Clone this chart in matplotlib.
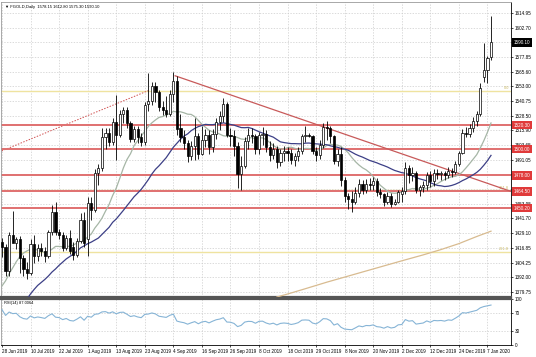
import numpy as np
import matplotlib
matplotlib.use("Agg")
import matplotlib.pyplot as plt
from matplotlib.transforms import blended_transform_factory

plt.rcParams["font.family"] = ["Liberation Sans", "DejaVu Sans"]

title_text = "\u25bc FGOLD,Daily  1578.15 1612.80 1575.30 1590.10"
rsi_text = "RSI(14) 87.0064"

date_labels = ["28 Jun 2019", "10 Jul 2019", "22 Jul 2019", "1 Aug 2019", "13 Aug 2019",
               "23 Aug 2019", "4 Sep 2019", "16 Sep 2019", "26 Sep 2019", "8 Oct 2019",
               "18 Oct 2019", "29 Oct 2019", "8 Nov 2019", "20 Nov 2019", "2 Dec 2019",
               "12 Dec 2019", "24 Dec 2019", "7 Jan 2020"]
date_label_bars = [0, 8, 16, 24, 32, 40, 48, 56, 64, 72, 80, 88, 96, 104, 112, 120, 128, 136]

# closes before the first visible bar (used only to warm up the indicators)
prior_closes = [1287, 1287, 1283, 1284, 1293, 1294, 1294, 1289, 1290, 1298, 1315, 1337, 1336,
                1343, 1347, 1351, 1336, 1337, 1344, 1352, 1351, 1349, 1356, 1371, 1400, 1409,
                1428, 1433, 1418, 1422]

opens = [1422, 1418, 1397, 1428, 1421, 1424, 1408, 1399, 1396, 1420,
         1410, 1417, 1414, 1410, 1430, 1447, 1430, 1428, 1417, 1425,
         1418, 1411, 1423, 1440, 1424, 1455, 1449, 1480, 1484, 1510,
         1514, 1506, 1523, 1512, 1530, 1533, 1522, 1509, 1517, 1510,
         1506, 1538, 1541, 1553, 1548, 1536, 1533, 1530, 1547, 1558,
         1518, 1510, 1505, 1494, 1503, 1511, 1496, 1508, 1512, 1502,
         1513, 1523, 1528, 1538, 1512, 1511, 1503, 1479, 1486, 1507,
         1512, 1511, 1500, 1512, 1513, 1502, 1495, 1500, 1489, 1497,
         1499, 1497, 1491, 1494, 1499, 1511, 1512, 1511, 1499, 1495,
         1504, 1519, 1518, 1511, 1490, 1496, 1474, 1461, 1458, 1456,
         1463, 1471, 1466, 1471, 1470, 1473, 1464, 1462, 1456, 1461,
         1454, 1456, 1462, 1465, 1484, 1478, 1480, 1466, 1468, 1470,
         1478, 1473, 1480, 1479, 1480, 1478, 1482, 1481, 1488, 1497,
         1514, 1513, 1518, 1524, 1530, 1561, 1567, 1578.15]

highs = [1425, 1420, 1430, 1448, 1426, 1427, 1411, 1405, 1424, 1428,
         1420, 1421, 1418, 1432, 1453, 1456, 1433, 1430, 1428, 1432,
         1422, 1425, 1446, 1447, 1460, 1460, 1483, 1488, 1518, 1518,
         1518, 1526, 1546, 1533, 1536, 1536, 1524, 1520, 1520, 1514,
         1540, 1564, 1557, 1557, 1550, 1541, 1545, 1550, 1565, 1562,
         1530, 1516, 1508, 1507, 1526, 1514, 1520, 1517, 1516, 1517,
         1526, 1532, 1543, 1540, 1518, 1516, 1506, 1494, 1510, 1518,
         1518, 1513, 1515, 1519, 1516, 1507, 1505, 1503, 1500, 1503,
         1502, 1500, 1497, 1502, 1513, 1520, 1514, 1512, 1502, 1508,
         1522, 1524, 1520, 1512, 1500, 1502, 1477, 1463, 1465, 1468,
         1475, 1474, 1475, 1476, 1477, 1476, 1467, 1463, 1464, 1463,
         1458, 1466, 1468, 1489, 1487, 1485, 1482, 1470, 1473, 1481,
         1482, 1483, 1483, 1482, 1482, 1485, 1484, 1490, 1499, 1517,
         1519, 1521, 1527, 1532, 1556, 1590, 1579, 1612.80]

lows = [1409, 1393, 1393, 1422, 1416, 1396, 1393, 1391, 1394, 1404,
        1406, 1410, 1405, 1408, 1428, 1428, 1424, 1414, 1415, 1412,
        1407, 1409, 1421, 1418, 1410, 1440, 1447, 1470, 1482, 1500,
        1503, 1504, 1491, 1510, 1522, 1518, 1506, 1506, 1505, 1503,
        1504, 1532, 1537, 1540, 1532, 1529, 1527, 1528, 1540, 1512,
        1506, 1500, 1489, 1491, 1491, 1492, 1495, 1502, 1496, 1498,
        1509, 1516, 1523, 1510, 1503, 1494, 1467, 1466, 1484, 1500,
        1505, 1496, 1496, 1504, 1498, 1490, 1492, 1484, 1486, 1490,
        1490, 1488, 1486, 1490, 1496, 1506, 1510, 1496, 1490, 1492,
        1501, 1508, 1505, 1488, 1486, 1469, 1456, 1450, 1447, 1454,
        1460, 1462, 1463, 1466, 1466, 1461, 1459, 1452, 1454, 1451,
        1453, 1455, 1456, 1462, 1472, 1473, 1463, 1461, 1464, 1466,
        1468, 1469, 1475, 1474, 1474, 1476, 1477, 1479, 1486, 1496,
        1510, 1510, 1515, 1520, 1528, 1557, 1556, 1575.30]

closes = [1418, 1397, 1428, 1421, 1424, 1408, 1399, 1396, 1420, 1410,
          1417, 1414, 1410, 1430, 1447, 1430, 1428, 1417, 1425, 1414,
          1411, 1423, 1440, 1421, 1455, 1449, 1480, 1484, 1510, 1514,
          1506, 1523, 1512, 1530, 1533, 1522, 1509, 1517, 1510, 1506,
          1537, 1541, 1553, 1548, 1536, 1533, 1530, 1547, 1558, 1517,
          1510, 1505, 1494, 1503, 1511, 1496, 1508, 1512, 1502, 1513,
          1523, 1528, 1538, 1512, 1511, 1503, 1479, 1486, 1507, 1512,
          1511, 1500, 1512, 1513, 1502, 1495, 1500, 1489, 1497, 1499,
          1497, 1491, 1494, 1499, 1511, 1512, 1511, 1499, 1495, 1504,
          1519, 1518, 1511, 1490, 1496, 1474, 1461, 1458, 1456, 1463,
          1471, 1466, 1471, 1470, 1473, 1464, 1462, 1456, 1461, 1454,
          1456, 1464, 1465, 1484, 1478, 1480, 1466, 1468, 1470, 1478,
          1473, 1480, 1479, 1480, 1478, 1482, 1481, 1488, 1497, 1514,
          1513, 1518, 1524, 1530, 1552, 1567, 1577, 1590.10]

# long moving average (bar index, price)
ma200_bars = [77, 80, 85, 91, 98, 105, 112, 118, 123, 128, 133, 137]
ma200_vals = [1375.5, 1378, 1382.5, 1388, 1394, 1400, 1406, 1411, 1415.5, 1420.5, 1426.5, 1431]

price_ticks = [1614.95, 1602.70, 1590.10, 1577.85, 1565.60, 1553.00, 1540.75, 1528.50,
               1515.90, 1503.65, 1491.05, 1478.80, 1466.55, 1453.95, 1441.70, 1429.10,
               1416.85, 1404.25, 1392.00, 1379.75]
current_price = 1590.10

sr_levels = [1520.30, 1500.00, 1478.00, 1464.50, 1450.20]
sr_labels = ["1520.30", "1500.00", "1478.00", "1464.50", "1450.20"]

fib_start_bar, fib_start_price = -1.0, 1497.5
fib_end_bar, fib_end_price = 41.0, 1549.5
fib_levels = [0.0, 161.8, 261.8]

trend_start_bar, trend_start_price = 48.5, 1562.0
trend_end_bar, trend_end_price = 142.6, 1464.5

rsi_ticks = [100, 70, 30, 0]

# ---------------------------------------------------------------
W, H = 536, 357
fig = plt.figure(figsize=(W / 100, H / 100), dpi=100)
fig.patch.set_facecolor("white")

FS = 3.3


def rect(x0, y0, x1, y1):
    return [x0 / W, 1 - y1 / H, (x1 - x0) / W, (y1 - y0) / H]


ax = fig.add_axes(rect(1, 2, 511, 297))
axr = fig.add_axes(rect(1, 299, 511, 345), sharex=ax)

n = len(closes)
x = np.arange(n)
o = np.array(opens, float)
h = np.array(highs, float)
l = np.array(lows, float)
c = np.array(closes, float)

grid_kw = dict(color="#cccccc", lw=0.5, linestyle=(0, (2, 2)), zorder=0)

# grid
for b in date_label_bars:
    ax.axvline(b, **grid_kw)
    axr.axvline(b, **grid_kw)
for p in price_ticks:
    ax.axhline(p, **grid_kw)
for r in [70, 30]:
    axr.axhline(r, **grid_kw)

# fibonacci levels
rng = fib_end_price - fib_start_price
for lev in fib_levels:
    p = fib_end_price - lev / 100.0 * rng
    ax.axhline(p, color="#efe3a0", lw=1.0, zorder=1)
    ax.text(142.0, p + 0.5, "%.1f" % lev, fontsize=2.8, color="#c9b860",
            ha="right", va="bottom", zorder=2)
ax.plot([fib_start_bar, fib_end_bar], [fib_start_price, fib_end_price],
        color="#d05050", lw=0.7, linestyle=(0, (1.5, 1.5)), zorder=2)

# support / resistance lines
for p in sr_levels:
    ax.axhline(p, color="#e07070", lw=1.4, zorder=2)

# trend line
ax.plot([trend_start_bar, trend_end_bar], [trend_start_price, trend_end_price],
        color="#c85a5a", lw=0.9, zorder=2)

# moving averages
full = np.array(prior_closes + list(closes), float)


def sma(arr, k):
    out = np.convolve(arr, np.ones(k) / k, mode="valid")
    return out[-n:]


ma_fast = sma(full, 14)
ma_slow = sma(full, 30)
ax.plot(x, ma_fast, color="#a6b6a6", lw=0.9, zorder=3)
ax.plot(x, ma_slow, color="#3c3f86", lw=0.9, zorder=3)
ax.plot(ma200_bars, ma200_vals, color="#d8bb90", lw=0.9, zorder=3)

# candles
up = c >= o
ax.vlines(x, l, h, color="black", lw=0.6, zorder=4)
body_bottom = np.minimum(o, c)
body_h = np.maximum(np.abs(c - o), 0.5)
ax.bar(x, body_h, bottom=body_bottom, width=0.62,
       color=np.where(up, "white", "black"), edgecolor="black", linewidth=0.5, zorder=5)

ax.set_xlim(-0.28, 142.6)
ax.set_ylim(1375.5, 1624.2)

# right price axis (labels hidden where a level box covers them, as in the reference)
covered = [current_price] + sr_levels


def tick_text(p):
    if any(abs(p - q) < 2.6 for q in covered):
        return ""
    return "%.2f" % p


ax.yaxis.tick_right()
ax.set_yticks(price_ticks)
ax.set_yticklabels([tick_text(p) for p in price_ticks])
ax.tick_params(axis="y", labelsize=FS, length=1.5, width=0.5, pad=1.5, colors="black")
ax.tick_params(axis="x", bottom=False, labelbottom=False)

tr = blended_transform_factory(ax.transAxes, ax.transData)
for p, s in zip(sr_levels, sr_labels):
    ax.text(1.005, p, s, transform=tr, fontsize=FS, color="white", va="center", ha="left",
            bbox=dict(boxstyle="square,pad=0.35", fc="#e03a3a", ec="none"), zorder=10,
            clip_on=False)
ax.text(1.005, current_price, "%.2f" % current_price, transform=tr, fontsize=FS,
        color="white", va="center", ha="left",
        bbox=dict(boxstyle="square,pad=0.35", fc="black", ec="none"), zorder=10, clip_on=False)

ax.text(0.008, 0.99, title_text, transform=ax.transAxes, fontsize=3.0, va="top", ha="left",
        color="black")

for sp in ["top", "left"]:
    ax.spines[sp].set_color("#9a9a9a")
    ax.spines[sp].set_linewidth(0.6)
ax.spines["right"].set_color("black")
ax.spines["right"].set_linewidth(0.6)
ax.spines["bottom"].set_color("#555555")
ax.spines["bottom"].set_linewidth(1.6)

# RSI
delta = np.diff(full)
gain = np.where(delta > 0, delta, 0.0)
loss = np.where(delta < 0, -delta, 0.0)
period = 14
ag = gain[:period].mean()
al = loss[:period].mean()
rsi_full = [np.nan] * (period + 1)
for g, ls in zip(gain[period:], loss[period:]):
    ag = (ag * (period - 1) + g) / period
    al = (al * (period - 1) + ls) / period
    rsi_full.append(100 - 100 / (1 + ag / al) if al > 0 else 100)
rsi = np.array(rsi_full)[-n:]

axr.plot(x, rsi, color="#86b4d6", lw=0.8, zorder=3)
axr.set_ylim(0, 100)
axr.yaxis.tick_right()
axr.set_yticks(rsi_ticks)
axr.set_yticklabels([str(t) for t in rsi_ticks])
axr.tick_params(axis="y", labelsize=FS, length=1.5, width=0.5, pad=1.5)
axr.set_xticks(date_label_bars)
axr.set_xticklabels(date_labels)
axr.tick_params(axis="x", labelsize=FS, length=1.5, width=0.5, pad=1.5)
for lbl in axr.get_xticklabels():
    lbl.set_ha("left")
axr.text(0.006, 0.95, rsi_text, transform=axr.transAxes, fontsize=2.9, va="top", ha="left")
axr.spines["top"].set_color("#555555")
axr.spines["top"].set_linewidth(1.6)
axr.spines["left"].set_color("#9a9a9a")
axr.spines["left"].set_linewidth(0.6)
axr.spines["right"].set_linewidth(0.6)
axr.spines["bottom"].set_linewidth(0.6)

fig.savefig("out.png", dpi=100, facecolor="white")
